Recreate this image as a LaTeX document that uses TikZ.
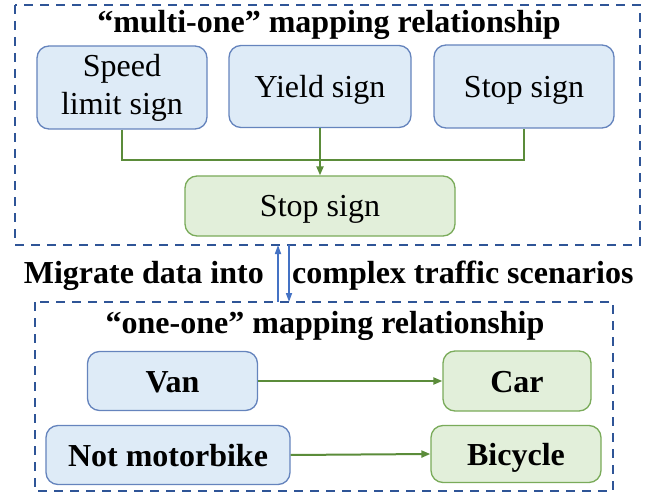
\documentclass[tikz,border=0pt]{standalone}
\usepackage{fontspec}
\setmainfont{Liberation Serif}
\usetikzlibrary{arrows.meta}
\definecolor{bfill}{HTML}{DEEBF7}
\definecolor{bline}{HTML}{6584BD}
\definecolor{gfill}{HTML}{E2EFDA}
\definecolor{gline}{HTML}{7AAB5A}
\definecolor{gconn}{HTML}{5B8C3A}
\definecolor{dashc}{HTML}{2F5597}
\definecolor{arrc}{HTML}{4472C4}
\tikzset{
  box/.style={rounded corners=12bp, line width=1.3bp, inner sep=0pt,
    font=\fontsize{32bp}{38bp}\selectfont, text height=22bp, text depth=0pt},
  bluebox/.style={box, draw=bline, fill=bfill},
  greenbox/.style={box, draw=gline, fill=gfill},
  gconnector/.style={draw=gconn, line width=2bp},
  garrow/.style={gconnector, -{Triangle[length=9bp,width=7bp]}},
  barrow/.style={draw=arrc, line width=1.6bp, -{Triangle[length=9bp,width=6bp]}},
  dashbox/.style={draw=dashc, line width=2.4bp, dash pattern=on 9bp off 7bp},
  title/.style={anchor=base, inner sep=0pt, font=\fontsize{32bp}{38bp}\selectfont\bfseries},
}
\begin{document}
\begin{tikzpicture}[x=1bp,y=-1bp]
\useasboundingbox (0,0) rectangle (662,493);
% dashed frames
\draw[dashbox] (15,5) rectangle (640,245);
\draw[dashbox] (35,302) rectangle (613,491);
% top section
\node[title] (t1) at (329,33) {“multi-one” mapping relationship};
\node[bluebox, minimum width=170bp, minimum height=83bp, align=center,
      text height=, text depth=, yshift=-1bp] (speed) at (122,86.5) {Speed\\limit sign};
\node[bluebox, minimum width=182bp, minimum height=82bp] (yield) at (320,86.5) {Yield sign};
\node[bluebox, minimum width=180bp, minimum height=83bp] (stopa) at (524,86.5) {Stop sign};
\node[greenbox, minimum width=270bp, minimum height=60bp] (stopg) at (320,206) {Stop sign};
\coordinate (j) at (320,160);
\draw[gconnector] (speed.south) |- (j) -| (stopa.south);
\draw[garrow] (yield.south) -- (stopg.north);
% middle arrows and text
\coordinate (u0) at (278,302);
\coordinate (u1) at (278,245);
\coordinate (d0) at (289,245);
\coordinate (d1) at (289,302);
\draw[barrow] (u0) -- (u1);
\draw[barrow] (d0) -- (d1);
\node[title, anchor=base east] (mig) at (264,283) {Migrate data into};
\node[title, anchor=base west] (cts) at (292,283) {complex traffic scenarios};
% bottom section
\node[title] (t2) at (325,333) {“one-one” mapping relationship};
\node[bluebox, minimum width=170bp, minimum height=59bp, font=\fontsize{32bp}{38bp}\selectfont\bfseries] (van) at (172.5,381) {Van};
\node[greenbox, minimum width=148bp, minimum height=60bp, font=\fontsize{32bp}{38bp}\selectfont\bfseries] (car) at (517,381) {Car};
\node[bluebox, minimum width=244bp, minimum height=59bp, font=\fontsize{32bp}{38bp}\selectfont\bfseries] (nm) at (168,455) {Not motorbike};
\node[greenbox, minimum width=170bp, minimum height=57bp, font=\fontsize{32bp}{38bp}\selectfont\bfseries] (bic) at (516,454) {Bicycle};
\draw[garrow] (van.east) -- (car.west);
\draw[garrow] (nm.east) -- (bic.west);
\end{tikzpicture}
\end{document}
